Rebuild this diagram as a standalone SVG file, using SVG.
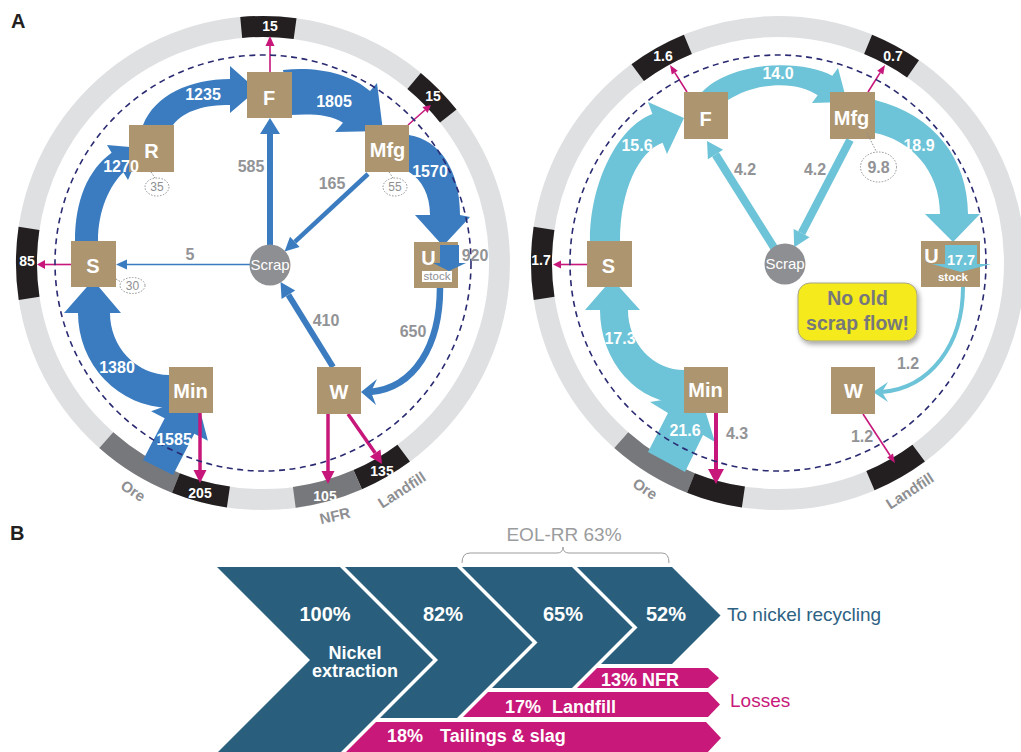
<svg xmlns="http://www.w3.org/2000/svg" width="1021" height="752" viewBox="0 0 1021 752">
<defs>
<style>
text{font-family:'Liberation Sans',Arial,Helvetica,sans-serif}
.ring{fill:none;stroke:#dfe0e2;stroke-width:21}
.seg{fill:none;stroke-width:21}
.blk{stroke:#231f20}
.gry{stroke:#77787b}
.dash{fill:none;stroke:#2a2a72;stroke-width:1.6;stroke-dasharray:6 4.5}
.node{fill:#ad956f}
.nt{font-weight:bold;font-size:20px;fill:#fff;text-anchor:middle}
.blue{fill:#3b7cc0}
.bl{stroke:#3b7cc0;fill:none}
.lb{fill:#6dc3d7}
.ll{stroke:#6dc3d7;fill:none}
.mag{fill:#c7177a}
.ml{stroke:#c7177a;fill:none}
.gl{font-weight:bold;font-size:16px;fill:#929396;text-anchor:middle}
.wl{font-weight:bold;font-size:16px;fill:#fff;text-anchor:middle}
.bt{font-weight:bold;font-size:14px;fill:#fff;text-anchor:middle}
.rl{font-weight:bold;font-size:15px;fill:#8e8f92;text-anchor:middle}
.dot{fill:#fff;stroke:#8e8f92;stroke-width:1;stroke-dasharray:1.5 1.5}
.dl{stroke:#8e8f92;stroke-width:1;stroke-dasharray:1.5 1.5}
.dt{font-size:12px;fill:#8e8f92;text-anchor:middle}
.scrap{fill:#8e8f92}
.st{font-size:15px;fill:#fff;text-anchor:middle}
.chev{fill:#295f7d}
.bar{fill:#c8197a}
.ct{font-weight:bold;font-size:20px;fill:#fff;text-anchor:middle}
.bw{font-weight:bold;font-size:18px;fill:#fff}
</style>
<filter id="sh" x="-20%" y="-20%" width="150%" height="170%"><feDropShadow dx="2" dy="3" stdDeviation="2.5" flood-color="#000" flood-opacity="0.35"/></filter>
</defs>
<rect width="1021" height="752" fill="#fff"/>
<text x="11" y="28" font-weight="bold" font-size="20" fill="#231f20">A</text>
<text x="10" y="540" font-weight="bold" font-size="20" fill="#231f20">B</text>

<!-- LEFT CIRCLE rings -->
<g id="left-ring">
<circle class="ring" cx="263" cy="263" r="236.5"/>
<path class="seg blk" d="M241.2,27.5 A236.5,236.5 0 0,1 295.1,28.7"/>
<path class="seg blk" d="M414.1,81 A236.5,236.5 0 0,1 448.3,116.1"/>
<path class="seg blk" d="M29.1,298.4 A236.5,236.5 0 0,1 29,228.4"/>
<path class="seg gry" d="M175.9,482.9 A236.5,236.5 0 0,1 106.3,440.1"/>
<path class="seg blk" d="M228.4,497 A236.5,236.5 0 0,1 175.9,482.9"/>
<path class="seg blk" d="M403.7,453.1 A236.5,236.5 0 0,1 357.7,479.7"/>
<path class="seg gry" d="M357.7,479.7 A236.5,236.5 0 0,1 294.3,497.4"/>
<text class="rl" x="133" y="496" transform="rotate(33 133 491)">Ore</text>
<text class="rl" x="335" y="521" transform="rotate(-13 335 516)">NFR</text>
<text class="rl" x="402" y="495" transform="rotate(-33 402 490)">Landfill</text>
</g>

<!-- RIGHT CIRCLE rings -->
<g id="right-ring">
<circle class="ring" cx="778" cy="263" r="236.5"/>
<path class="seg blk" d="M637.7,72.6 A236.5,236.5 0 0,1 687.9,44.4"/>
<path class="seg blk" d="M868.1,44.4 A236.5,236.5 0 0,1 913,68.8"/>
<path class="seg blk" d="M544.1,298.4 A236.5,236.5 0 0,1 544,228.4"/>
<path class="seg gry" d="M690.9,482.9 A236.5,236.5 0 0,1 621.3,440.1"/>
<path class="seg blk" d="M743.4,497 A236.5,236.5 0 0,1 690.9,482.9"/>
<path class="seg blk" d="M918.7,453.1 A236.5,236.5 0 0,1 870.4,480.7"/>
<text class="rl" x="645" y="494" transform="rotate(33 645 489)">Ore</text>
<text class="rl" x="910" y="496" transform="rotate(-33 910 491)">Landfill</text>
</g>

<!-- LEFT connectors -->
<g id="left-flows">
<path class="blue" d="M143,460 L173,475 L194.3,433.8 L207.9,440.8 L196,395 L151.1,411.2 L164.7,418.2 Z"/>
<path class="blue" d="M169,408 A93,95 0 0,1 78,313 L64,313 L93,280 L121,313 L110,313 A59,62 0 0,0 169,375 Z"/>
<path class="blue" d="M75,241 C75,200 88,170 111.6,152.7 L107,145 L141.5,148 L128,180 L123.4,172.3 C110,185 98,210 98,241 Z"/>
<path class="blue" d="M143,125 C155,95 190,79 230,79 L230,66 L257,90 L230,113 L230,105 C205,105 185,110 173,125 Z"/>
<path class="blue" d="M283,70 C315,66 350,73 370,91 L377,83 L383,131 L335,132 L343,122.7 C330,114 310,114 290,115 Z"/>
<path class="blue" d="M409,135 C440,140 460,170 460,215 L470,217 L443,246 L415,215 L430,215 C430,195 422,180 409,172 Z"/>
<line class="bl" x1="270" y1="246" x2="270" y2="132" stroke-width="6"/>
<polygon class="blue" points="260,134 280,134 270,118"/>
<line class="bl" x1="368" y1="174" x2="294.8" y2="241.9" stroke-width="4.5"/>
<polygon class="blue" points="299.6,247 290,236.8 284.6,251.4"/>
<line class="bl" x1="333" y1="367" x2="288.4" y2="294.8" stroke-width="6"/>
<polygon class="blue" points="295.2,290.6 281.6,299 280.5,282"/>
<line class="bl" x1="250" y1="264.5" x2="125" y2="264.5" stroke-width="1.6"/>
<polygon class="blue" points="127,259.5 127,269.5 116,264.5"/>
<path class="bl" d="M440,288 C440,345 415,388 370,392" stroke-width="6.5"/>
<polygon class="blue" points="361,392 377,379 371,392 376,405"/>
<line class="ml" x1="270" y1="72" x2="270" y2="44" stroke-width="1.6"/>
<polygon class="mag" points="265.5,46 274.5,46 270,36"/>
<line class="ml" x1="408" y1="125" x2="425" y2="110" stroke-width="1.6"/>
<polygon class="mag" points="427.6,113 422.4,107 431,105"/>
<line class="ml" x1="71" y1="264.5" x2="44" y2="264.5" stroke-width="1.6"/>
<polygon class="mag" points="45,260 45,269 37,264.5"/>
<line class="ml" x1="200" y1="413" x2="200" y2="472" stroke-width="3.5"/>
<polygon class="mag" points="193.5,470 206.5,470 200,483"/>
<line class="ml" x1="328" y1="414" x2="328" y2="473" stroke-width="3.5"/>
<polygon class="mag" points="321.5,471 334.5,471 328,484"/>
<line class="ml" x1="348" y1="414" x2="375.2" y2="453.1" stroke-width="3.5"/>
<polygon class="mag" points="380.5,449.4 369.9,456.8 382,464"/>
</g>

<!-- RIGHT connectors -->
<g id="right-flows">
<path class="lb" d="M648,452 L685,472 L703,435 L715,442 L700,394 L650,402 L668,413 Z"/>
<path class="lb" d="M684,404 A84,94 0 0,1 600,310 L585,310 L612,279 L640,310 L628,310 A56,60 0 0,0 684,370 Z"/>
<path class="lb" d="M590,241 C590,180 619.5,126 652.4,114 L648,102 L684,118 L667,154 L662.6,142.7 C639,151.3 620,190 620,241 Z"/>
<path class="lb" d="M702,92 C730,62 800,58 832.3,75.7 L838,68 L847,102 L812,103 L817.7,95.3 C800,82 760,80 728,100 Z"/>
<path class="lb" d="M875,100 C935,115 968,160 968,214 L980,214 L953,242 L925,214 L940,214 C940,170 910,140 875,133 Z"/>
<line class="ll" x1="774.3" y1="248.1" x2="715.5" y2="154.5" stroke-width="8"/>
<polygon class="lb" points="723.1,149.7 707.9,159.3 707,141"/>
<line class="ll" x1="850" y1="140" x2="801.6" y2="233.1" stroke-width="8"/>
<polygon class="lb" points="809.6,237.2 793.6,229 794.2,247.3"/>
<path class="ll" d="M963,287 C963,345 930,388 882,392" stroke-width="4"/>
<polygon class="lb" points="873,392 888,382 882,392 888,402"/>
<line class="ml" x1="687" y1="92" x2="674.8" y2="72.6" stroke-width="1.6"/>
<polygon class="mag" points="677.8,70.7 671.8,74.5 670,65"/>
<line class="ml" x1="868" y1="92" x2="880.2" y2="72.6" stroke-width="1.6"/>
<polygon class="mag" points="883.2,74.5 877.2,70.7 885,65"/>
<line class="ml" x1="587" y1="264.5" x2="560" y2="264.5" stroke-width="1.6"/>
<polygon class="mag" points="561,260.5 561,268.5 553,264.5"/>
<line class="ml" x1="716" y1="413" x2="716" y2="471" stroke-width="4"/>
<polygon class="mag" points="708,469 724,469 716,484"/>
<line class="ml" x1="863" y1="414" x2="890.1" y2="455.5" stroke-width="1.6"/>
<polygon class="mag" points="893,453.6 887.2,457.4 895,463"/>
</g>

<!-- dashed system boundaries -->
<circle class="dash" cx="263" cy="263" r="208"/>
<circle class="dash" cx="778" cy="263" r="208"/>

<!-- LEFT nodes -->
<g id="L-R"><rect class="node" x="129" y="125" width="45" height="47"/><text class="nt" x="151.5" y="158">R</text>
<line class="dl" x1="151" y1="172" x2="155" y2="178"/><ellipse class="dot" cx="157" cy="187" rx="12" ry="9"/><text class="dt" x="157" y="191">35</text></g>
<g id="L-F"><rect class="node" x="247" y="72" width="45" height="46"/><text class="nt" x="269" y="105">F</text></g>
<g id="L-Mfg"><rect class="node" x="365" y="125" width="44" height="47"/><text class="nt" x="387.5" y="157">Mfg</text>
<line class="dl" x1="389" y1="172" x2="393" y2="178"/><ellipse class="dot" cx="395" cy="187" rx="12" ry="9"/><text class="dt" x="395" y="191">55</text></g>
<g id="L-U"><rect class="node" x="414" y="242" width="44" height="46"/><text class="nt" x="428.5" y="265">U</text>
<rect class="blue" x="440" y="245" width="19" height="19"/><polygon class="blue" points="433,263 466,263 449,271"/>
<rect x="422" y="271" width="30" height="11" fill="#fff"/><text x="437" y="280" font-size="11.5" fill="#8e8f92" text-anchor="middle">stock</text></g>
<g id="L-W"><rect class="node" x="317" y="367" width="44" height="47"/><text class="nt" x="339" y="399">W</text></g>
<g id="L-Min"><rect class="node" x="169" y="367" width="44" height="46"/><text class="nt" x="190.5" y="398">Min</text></g>
<g id="L-S"><rect class="node" x="71" y="241" width="45" height="46"/><text class="nt" x="93" y="273">S</text>
<line class="dl" x1="116" y1="279" x2="121" y2="282"/><ellipse class="dot" cx="132.5" cy="285.5" rx="12.5" ry="8"/><text class="dt" x="132.5" y="290">30</text></g>
<g id="L-Scrap"><circle class="scrap" cx="270" cy="265" r="20.5"/><text class="st" x="270" y="270">Scrap</text></g>

<!-- RIGHT nodes -->
<g id="R-F"><rect class="node" x="684" y="92" width="44" height="47"/><text class="nt" x="705.5" y="126">F</text></g>
<g id="R-Mfg"><rect class="node" x="830" y="92" width="45" height="47"/><text class="nt" x="851.5" y="125">Mfg</text>
<line class="dl" x1="867" y1="133" x2="876" y2="151"/><ellipse class="dot" cx="878.5" cy="167" rx="18" ry="15"/><text x="878.5" y="173" font-size="16" font-weight="bold" fill="#929396" text-anchor="middle">9.8</text></g>
<g id="R-U"><rect class="node" x="921" y="241" width="59" height="46"/><text class="nt" x="931.5" y="263">U</text>
<rect class="lb" x="945" y="245" width="32" height="19"/><polygon class="lb" points="932,264 991,264 961,272"/>
<text x="961" y="264.5" font-size="14.5" font-weight="bold" fill="#fff" text-anchor="middle">17.7</text>
<text x="953" y="281" font-size="11.5" font-weight="bold" fill="#fff" text-anchor="middle">stock</text></g>
<g id="R-W"><rect class="node" x="831" y="367" width="44" height="47"/><text class="nt" x="853.5" y="398">W</text></g>
<g id="R-Min"><rect class="node" x="684" y="367" width="44" height="46"/><text class="nt" x="705.5" y="397">Min</text></g>
<g id="R-S"><rect class="node" x="587" y="241" width="45" height="46"/><text class="nt" x="608.5" y="273">S</text></g>
<g id="R-Scrap"><circle class="scrap" cx="785" cy="264" r="20.5"/><text class="st" x="785" y="269">Scrap</text></g>
<g id="callout"><rect x="798" y="283" width="119" height="58" rx="12" fill="#f4ea1f" stroke="#a8a68a" stroke-width="1" filter="url(#sh)"/>
<text x="857.5" y="305" font-size="19.5" font-weight="bold" fill="#77787b" text-anchor="middle">No old</text>
<text x="857.5" y="330" font-size="19.5" font-weight="bold" fill="#77787b" text-anchor="middle">scrap flow!</text></g>

<!-- ring value labels (on top) -->
<g id="ring-values">
<text class="bt" x="270" y="31">15</text>
<text class="bt" x="433" y="101">15</text>
<text class="bt" x="27" y="266">85</text>
<text class="bt" x="200" y="498">205</text>
<text class="bt" x="325" y="501">105</text>
<text class="bt" x="382" y="476">135</text>
<text class="bt" x="663" y="61">1.6</text>
<text class="bt" x="893" y="61">0.7</text>
<text class="bt" x="541" y="265">1.7</text>
</g>

<!-- flow labels (on top) -->
<g id="left-labels">
<text class="wl" x="174" y="445">1585</text>
<text class="wl" x="117" y="373">1380</text>
<text class="wl" x="121" y="172">1270</text>
<text class="wl" x="203" y="100">1235</text>
<text class="wl" x="334" y="107">1805</text>
<text class="wl" x="430" y="177">1570</text>
<text class="gl" x="251" y="172">585</text>
<text class="gl" x="332" y="189">165</text>
<text class="gl" x="326" y="326">410</text>
<text class="gl" x="413" y="337">650</text>
<text class="gl" x="190" y="260">5</text>
<text class="gl" x="475" y="261">920</text>
</g>
<g id="right-labels">
<text class="wl" x="685" y="436">21.6</text>
<text class="wl" x="620" y="344">17.3</text>
<text class="wl" x="637" y="151">15.6</text>
<text class="wl" x="778" y="79">14.0</text>
<text class="wl" x="919" y="151">18.9</text>
<text class="gl" x="745" y="175">4.2</text>
<text class="gl" x="815" y="175">4.2</text>
<text class="gl" x="908" y="369">1.2</text>
<text class="gl" x="862" y="442">1.2</text>
<text class="gl" x="737" y="439">4.3</text>
</g>

<!-- PANEL B -->
<g id="B-chevrons">
<polygon class="chev" points="217,567 340,567 433,660 340,753 217,753 310,660"/>
<polygon class="chev" points="345,567 457,567 532.5,642.5 457,718 380,718 438,660"/>
<polygon class="chev" points="462,567 572,567 632.5,627.5 572,688 492,688 537.5,642.5"/>
<polygon class="chev" points="577,567 672,567 720.5,615.5 672,664 601,664 637.5,627.5"/>
<text class="ct" x="325" y="621">100%</text>
<text class="ct" x="443" y="621">82%</text>
<text class="ct" x="563" y="621">65%</text>
<text class="ct" x="666" y="621">52%</text>
<text x="355" y="659" font-size="18" font-weight="bold" fill="#fff" text-anchor="middle">Nickel</text>
<text x="355" y="677" font-size="18" font-weight="bold" fill="#fff" text-anchor="middle">extraction</text>
</g>
<g id="B-losses">
<polygon class="bar" points="597,668 708,668 719,678 708,688 577,688"/>
<polygon class="bar" points="488,692 708,692 720,704.5 708,717 463,717"/>
<polygon class="bar" points="376,722 706,722 721,738 706,754 344,754"/>
<text class="bw" x="601" y="686" font-size="17">13% NFR</text>
<text class="bw" x="505" y="713">17%</text>
<text class="bw" x="552" y="713">Landfill</text>
<text class="bw" x="387" y="742">18%</text>
<text class="bw" x="440" y="742">Tailings &amp; slag</text>
</g>
<g id="B-labels">
<text x="727" y="621" font-size="19" fill="#2d6283">To nickel recycling</text>
<text x="730" y="707" font-size="19" fill="#c8197a">Losses</text>
<text x="564" y="541" font-size="19" fill="#9b9c9e" text-anchor="middle">EOL-RR 63%</text>
<path d="M462,563 Q462,553 470,553 L557,553 Q563,553 563,547 Q563,553 569,553 L662,553 Q669,553 669,563" fill="none" stroke="#9b9c9e" stroke-width="1"/>
</g>
</svg>
